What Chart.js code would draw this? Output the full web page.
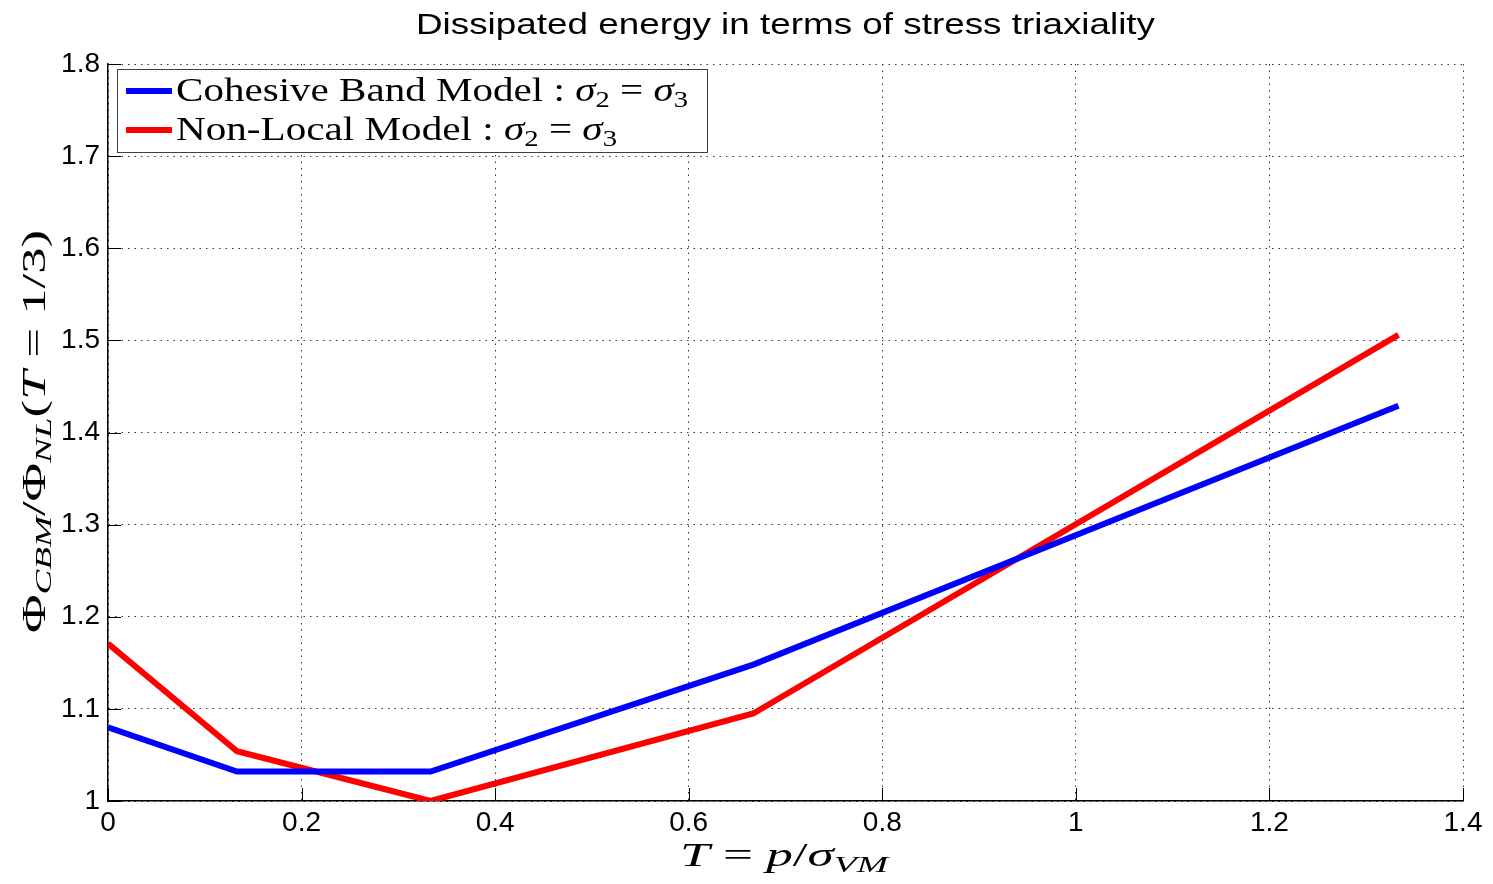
<!DOCTYPE html>
<html>
<head>
<meta charset="utf-8">
<script src="https://cdn.jsdelivr.net/npm/chart.js@4/dist/chart.umd.min.js"></script>
<style>
  html, body { margin: 0; padding: 0; background: #fff; }
  canvas { display: block; }
</style>
</head>
<body>
<canvas id="grafico" width="1493" height="884"></canvas>
<script>
// triaxiality values (x) and normalised dissipated energy (y)
const triaxialidad = [0, 0.1333, 0.3333, 0.6667, 1.3333];
const bandaCohesiva = [1.080, 1.032, 1.032, 1.148, 1.429];
const noLocal = [1.171, 1.054, 1.000, 1.095, 1.506];
const nombresSeries = ['Cohesive Band Model', 'Non-Local Model'];
const coloresSeries = ['#0000ff', '#ff0000'];
const tituloGrafico = 'Dissipated energy in terms of stress triaxiality';

const serif = '"Liberation Serif", "Times New Roman", serif';
const sans = '"Liberation Sans", Arial, sans-serif';

// draws a row of text pieces (italic / subscript), stretched to a given width
function textoRico(ctx, piezas, size, x, y, ancho, angulo) {
  const fontDe = p => (p.i ? 'italic ' : '') + (p.sub ? Math.round(size * 0.7) : size) + 'px ' + serif;
  let total = 0;
  piezas.forEach(p => { ctx.font = fontDe(p); p.w = ctx.measureText(p.t).width; total += p.w; });
  ctx.save();
  ctx.translate(x, y);
  if (angulo) ctx.rotate(angulo);
  ctx.scale(ancho / total, 1);
  ctx.fillStyle = '#000';
  ctx.textBaseline = 'alphabetic';
  ctx.textAlign = 'left';
  let cx = 0;
  piezas.forEach(p => {
    ctx.font = fontDe(p);
    ctx.fillText(p.t, cx, p.sub ? size * 0.17 : 0);
    cx += p.w;
  });
  ctx.restore();
}

const sufijoLeyenda = [
  { t: ' : ' }, { t: 'σ', i: 1 }, { t: '2', sub: 1 }, { t: ' = ' }, { t: 'σ', i: 1 }, { t: '3', sub: 1 }
];

const decoracion = {
  id: 'decoracion',
  afterDraw(chart) {
    const ctx = chart.ctx;
    const area = chart.chartArea;
    const sx = chart.scales.x, sy = chart.scales.y;

    // inner tick marks
    ctx.save();
    ctx.strokeStyle = '#000';
    ctx.lineWidth = 1;
    ctx.beginPath();
    sx.ticks.forEach(t => {
      const px = Math.round(sx.getPixelForValue(t.value)) + 0.5;
      ctx.moveTo(px, area.bottom); ctx.lineTo(px, area.bottom - 13);
    });
    sy.ticks.forEach(t => {
      const py = Math.round(sy.getPixelForValue(t.value)) + 0.5;
      ctx.moveTo(area.left, py); ctx.lineTo(area.left + 13, py);
    });
    ctx.stroke();
    ctx.restore();

    // title
    ctx.save();
    ctx.font = '30px ' + sans;
    const wt = ctx.measureText(tituloGrafico).width;
    ctx.translate(416, 34);
    ctx.scale(739 / wt, 1);
    ctx.fillStyle = '#000';
    ctx.textBaseline = 'alphabetic';
    ctx.fillText(tituloGrafico, 0, 0);
    ctx.restore();

    // legend box
    ctx.save();
    ctx.fillStyle = '#fff';
    ctx.fillRect(117.5, 69.5, 590, 83);
    ctx.strokeStyle = '#404040';
    ctx.lineWidth = 1;
    ctx.strokeRect(117.5, 69.5, 590, 83);
    const filas = [91, 130];
    const anchos = [512, 441];
    chart.data.datasets.forEach((ds, i) => {
      ctx.strokeStyle = ds.borderColor;
      ctx.lineWidth = 6;
      ctx.beginPath();
      ctx.moveTo(126, filas[i]); ctx.lineTo(172, filas[i]);
      ctx.stroke();
      textoRico(ctx, [{ t: ds.label }].concat(sufijoLeyenda), 33, 176, filas[i] + 10, anchos[i]);
    });
    ctx.restore();

    // axis labels
    textoRico(ctx, [
      { t: 'T', i: 1 }, { t: ' = ' }, { t: 'p', i: 1 }, { t: '/' }, { t: 'σ', i: 1 }, { t: 'VM', i: 1, sub: 1 }
    ], 34, 680, 866, 208);
    textoRico(ctx, [
      { t: 'Φ' }, { t: 'CBM', i: 1, sub: 1 }, { t: '/Φ' }, { t: 'NL', i: 1, sub: 1 },
      { t: '(' }, { t: 'T', i: 1 }, { t: ' = 1/3)' }
    ], 34, 45, 633, 403, -Math.PI / 2);
  }
};

const etiqueta = v => String(+v.toFixed(1));

new Chart(document.getElementById('grafico').getContext('2d'), {
  type: 'line',
  data: {
    datasets: [bandaCohesiva, noLocal].map((serie, i) => ({
      label: nombresSeries[i],
      data: triaxialidad.map((t, j) => ({ x: t, y: serie[j] })),
      borderColor: coloresSeries[i],
      backgroundColor: coloresSeries[i],
      borderWidth: 6,
      pointRadius: 0,
      tension: 0,
      fill: false
    }))
  },
  options: {
    responsive: false,
    animation: false,
    devicePixelRatio: 1,
    layout: { padding: { top: 64, right: 30, left: 0, bottom: 0 } },
    plugins: { legend: { display: false }, title: { display: false }, tooltip: { enabled: false } },
    scales: {
      x: {
        type: 'linear',
        min: 0, max: 1.4,
        afterFit: s => { s.height = 83; },
        ticks: { stepSize: 0.2, color: '#000', padding: 5, maxRotation: 0, font: { family: sans, size: 28 }, callback: etiqueta },
        grid: { color: '#333', lineWidth: 1, drawTicks: false },
        border: { display: true, color: '#000', width: 1.5, dash: [1.5, 5] }
      },
      y: {
        min: 1, max: 1.8,
        afterFit: s => { s.width = 108; },
        ticks: { stepSize: 0.1, color: '#000', padding: 8, font: { family: sans, size: 28 }, callback: etiqueta },
        grid: { color: '#333', lineWidth: 1, drawTicks: false },
        border: { display: true, color: '#000', width: 1.5, dash: [1.5, 5] }
      }
    }
  },
  plugins: [decoracion]
});
</script>
</body>
</html>
